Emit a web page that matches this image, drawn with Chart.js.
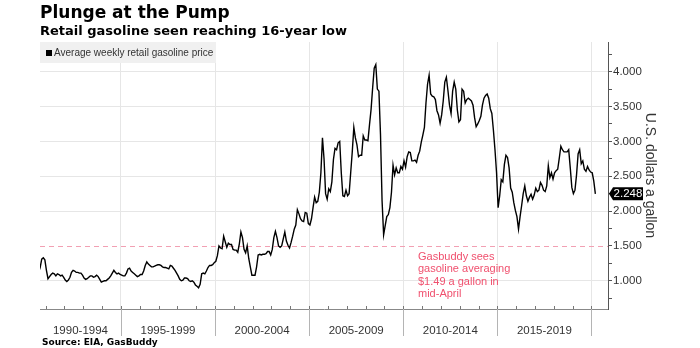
<!DOCTYPE html>
<html>
<head>
<meta charset="utf-8">
<script src="https://cdn.jsdelivr.net/npm/chart.js"></script>
<style>
  body { margin: 0; background: #fff; }
  #wrap { position: relative; width: 700px; height: 348px; overflow: hidden; }
  canvas { position: absolute; left: 0; top: 0; }
  .txt { position: absolute; white-space: nowrap; }
  #title { left: 40px; top: 4px; font: bold 17px/17px "DejaVu Sans", sans-serif; color: #000; }
  #subtitle { left: 40px; top: 24px; font: bold 13px/13px "DejaVu Sans", sans-serif; color: #000; }
  #legend { left: 40px; top: 42px; width: 176px; height: 21px; background: #f0f0f0; }
  #legend i { position: absolute; left: 6px; top: 8px; width: 6px; height: 6px; background: #000; }
  #legend span { position: absolute; left: 14px; top: 5px; font: 10px/12px "Liberation Sans", Arial, sans-serif; color: #333; }
  #note { left: 418px; top: 250px; font: 11px/12.3px "Liberation Sans", Arial, sans-serif; color: #f0506e; white-space: normal; }
  #source { left: 42px; top: 338px; font: bold 9px/9px "DejaVu Sans", sans-serif; color: #000; }
</style>
</head>
<body>
<div id="wrap">
  <canvas id="chart" width="700" height="348"></canvas>
  <div class="txt" id="title">Plunge at the Pump</div>
  <div class="txt" id="subtitle">Retail gasoline seen reaching 16-year low</div>
  <div class="txt" id="legend"><i></i><span>Average weekly retail gasoline price</span></div>
  <div class="txt" id="note">Gasbuddy sees<br>gasoline averaging<br>$1.49 a gallon in<br>mid-April</div>
  <div class="txt" id="source">Source: EIA, GasBuddy</div>
</div>
<script>
// monthly readings, starting August 1990
const firstMonth = 1990 + 7 / 12;
const prices = [
  1.12, 1.19, 1.31, 1.33, 1.30,
  1.15, 1.03, 1.06, 1.09, 1.11, 1.10, 1.07, 1.10, 1.09, 1.07, 1.08, 1.05,
  1.01, 0.99, 1.01, 1.05, 1.12, 1.15, 1.14, 1.12, 1.12, 1.11, 1.11, 1.08,
  1.04, 1.02, 1.03, 1.05, 1.07, 1.07, 1.05, 1.06, 1.08, 1.06, 1.02, 0.98,
  0.99, 1.00, 1.00, 1.02, 1.04, 1.07, 1.11, 1.15, 1.12, 1.10, 1.11, 1.09,
  1.08, 1.07, 1.07, 1.11, 1.17, 1.18, 1.14, 1.12, 1.10, 1.08, 1.06, 1.07,
  1.09, 1.09, 1.14, 1.22, 1.27, 1.24, 1.22, 1.20, 1.20, 1.21, 1.22, 1.23,
  1.23, 1.22, 1.20, 1.19, 1.19, 1.18, 1.17, 1.22, 1.21, 1.18, 1.15, 1.11,
  1.07, 1.02, 1.00, 1.01, 1.04, 1.04, 1.03, 1.00, 0.99, 1.00, 0.98, 0.94,
  0.92, 0.90, 0.95, 1.10, 1.11, 1.10, 1.14, 1.19, 1.22, 1.22, 1.23, 1.26,
  1.28, 1.36, 1.50, 1.47, 1.46, 1.64, 1.56, 1.48, 1.54, 1.52, 1.52, 1.45,
  1.44, 1.44, 1.41, 1.53, 1.70, 1.62, 1.45, 1.40, 1.50, 1.32, 1.20, 1.08,
  1.08, 1.08, 1.20, 1.37, 1.38, 1.37, 1.38, 1.38, 1.39, 1.42, 1.42, 1.37,
  1.45, 1.62, 1.71, 1.62, 1.50, 1.48, 1.50, 1.60, 1.70, 1.57, 1.51, 1.47,
  1.55, 1.64, 1.74, 1.80, 2.02, 1.96, 1.89, 1.86, 1.85, 1.98, 1.97, 1.82,
  1.80, 1.89, 2.05, 2.20, 2.12, 2.14, 2.27, 2.55, 3.05, 2.75, 2.25, 2.17,
  2.32, 2.28, 2.42, 2.74, 2.90, 2.88, 2.98, 3.00, 2.55, 2.22, 2.21, 2.30,
  2.22, 2.25, 2.55, 2.85, 3.20, 3.05, 2.95, 2.78, 2.80, 2.80, 3.08, 3.02,
  3.02, 3.01, 3.24, 3.46, 3.77, 4.05, 4.10, 3.75, 3.72, 3.10, 2.15, 1.66,
  1.79, 1.92, 1.95, 2.05, 2.27, 2.66, 2.52, 2.62, 2.55, 2.55, 2.64, 2.60,
  2.72, 2.63, 2.78, 2.85, 2.84, 2.72, 2.72, 2.73, 2.70, 2.80, 2.86, 2.99,
  3.09, 3.20, 3.55, 3.82, 3.95, 3.68, 3.65, 3.64, 3.60, 3.44, 3.38, 3.26,
  3.38, 3.58, 3.85, 3.92, 3.73, 3.52, 3.40, 3.72, 3.85, 3.75, 3.45, 3.28,
  3.31, 3.75, 3.72, 3.55, 3.60, 3.62, 3.60, 3.58, 3.52, 3.34, 3.21, 3.25,
  3.30, 3.36, 3.52, 3.62, 3.66, 3.68, 3.62, 3.47, 3.40, 3.16, 2.88, 2.55,
  2.05, 2.22, 2.45, 2.42, 2.67, 2.80, 2.77, 2.62, 2.33, 2.27, 2.12, 2.01,
  1.92, 1.74, 1.92, 2.08, 2.25, 2.36, 2.22, 2.14, 2.20, 2.24, 2.17, 2.23,
  2.33, 2.28, 2.30, 2.41, 2.37, 2.30, 2.28, 2.36, 2.65, 2.48, 2.55, 2.46,
  2.55, 2.58, 2.60, 2.76, 2.93, 2.88, 2.85, 2.85, 2.85, 2.88, 2.62, 2.34,
  2.25, 2.30, 2.52, 2.82, 2.88, 2.68, 2.72, 2.60, 2.57, 2.64, 2.59, 2.56,
  2.55, 2.43, 2.248
];
const periodLabels = ['1990-1994', '1995-1999', '2000-2004', '2005-2009', '2010-2014', '2015-2019'];
const labelAt = [1992.85, 1997.5, 2002.5, 2007.5, 2012.5, 2017.5];
const separators = [1995, 2000, 2005, 2010, 2015, 2020];
const forecastLevel = 1.5;

const points = prices.map((v, i) => ({ x: firstMonth + (i + 0.5) / 12, y: v }));
const isSep = v => separators.some(s => Math.abs(s - v) < 1e-6);
const isHalf = v => Math.abs(v * 2 - Math.round(v * 2)) < 1e-6;

const extras = {
  id: 'extras',
  beforeDatasetsDraw(chart) {
    const { ctx, chartArea: a, scales: { y } } = chart;
    const yy = Math.round(y.getPixelForValue(forecastLevel)) + 0.5;
    ctx.save();
    ctx.strokeStyle = '#f2a0b3';
    ctx.lineWidth = 1;
    ctx.setLineDash([5, 4]);
    ctx.beginPath();
    ctx.moveTo(a.left, yy);
    ctx.lineTo(a.right, yy);
    ctx.stroke();
    ctx.restore();
  },
  afterDraw(chart) {
    const { ctx, chartArea: a, scales: { x, y } } = chart;
    ctx.save();
    // period separators below the axis
    ctx.strokeStyle = '#b4b4b4';
    ctx.lineWidth = 1;
    separators.forEach(s => {
      const px = Math.round(x.getPixelForValue(s)) + 0.5;
      ctx.beginPath();
      ctx.moveTo(px, a.bottom);
      ctx.lineTo(px, a.bottom + 27);
      ctx.stroke();
    });
    // yearly ticks
    ctx.strokeStyle = '#777';
    for (let yr = 1991; yr <= 2020; yr++) {
      const px = Math.round(x.getPixelForValue(yr)) + 0.5;
      ctx.beginPath();
      ctx.moveTo(px, a.bottom);
      ctx.lineTo(px, a.bottom - 3);
      ctx.stroke();
    }
    // last value tag
    const last = prices[prices.length - 1];
    const ly = y.getPixelForValue(last);
    const bx = a.right + 5, bw = 30, bh = 13;
    ctx.fillStyle = '#000';
    ctx.beginPath();
    ctx.moveTo(a.right + 1, ly);
    ctx.lineTo(bx, ly - bh / 2);
    ctx.lineTo(bx + bw, ly - bh / 2);
    ctx.lineTo(bx + bw, ly + bh / 2);
    ctx.lineTo(bx, ly + bh / 2);
    ctx.closePath();
    ctx.fill();
    ctx.fillStyle = '#fff';
    ctx.font = '11.5px "Liberation Sans", Arial, sans-serif';
    ctx.textAlign = 'center';
    ctx.textBaseline = 'middle';
    ctx.fillText(last.toFixed(3), bx + bw / 2, ly + 0.5);
    ctx.restore();
  }
};

new Chart(document.getElementById('chart'), {
  type: 'line',
  data: {
    datasets: [{
      label: 'Average weekly retail gasoline price',
      data: points,
      borderColor: '#000',
      borderWidth: 1.4,
      pointRadius: 0,
      tension: 0
    }]
  },
  options: {
    responsive: false,
    animation: false,
    layout: { padding: { left: 40, top: 42, right: 42, bottom: 0 } },
    plugins: { legend: { display: false }, tooltip: { enabled: false } },
    scales: {
      x: {
        type: 'linear',
        min: 1990.70,
        max: 2020.88,
        afterBuildTicks(s) { s.ticks = separators.concat(labelAt).map(v => ({ value: v })); },
        afterFit(s) { s.height = 39; },
        grid: {
          color: c => isSep(c.tick.value) ? '#e6e6e6' : 'rgba(0,0,0,0)',
          drawTicks: false
        },
        border: { display: true, color: '#888' },
        ticks: {
          autoSkip: false,
          maxRotation: 0,
          padding: 15,
          color: '#333',
          font: { family: '"Liberation Sans", Arial, sans-serif', size: 11.5 },
          callback: v => {
            const i = labelAt.findIndex(l => Math.abs(l - v) < 1e-6);
            return i >= 0 ? periodLabels[i] : '';
          }
        }
      },
      y: {
        position: 'right',
        min: 0.595,
        max: 4.426,
        afterBuildTicks(s) {
          const t = [];
          for (let v = 0.75; v <= 4.25 + 1e-6; v += 0.25) t.push({ value: Math.round(v * 100) / 100 });
          s.ticks = t;
        },
        afterFit(s) { s.width = 50; },
        grid: {
          color: c => isHalf(c.tick.value) && c.tick.value !== forecastLevel ? '#e6e6e6' : 'rgba(0,0,0,0)',
          tickColor: '#555',
          tickLength: 4
        },
        border: { display: true, color: '#555' },
        ticks: {
          padding: 1,
          color: '#333',
          font: { family: '"Liberation Sans", Arial, sans-serif', size: 11.5 },
          callback: v => isHalf(v) ? v.toFixed(3) : ''
        },
        title: {
          display: true,
          text: 'U.S. dollars a gallon',
          color: '#333',
          font: { family: '"Liberation Sans", Arial, sans-serif', size: 14 },
          padding: 0
        }
      }
    }
  },
  plugins: [extras]
});
</script>
</body>
</html>
